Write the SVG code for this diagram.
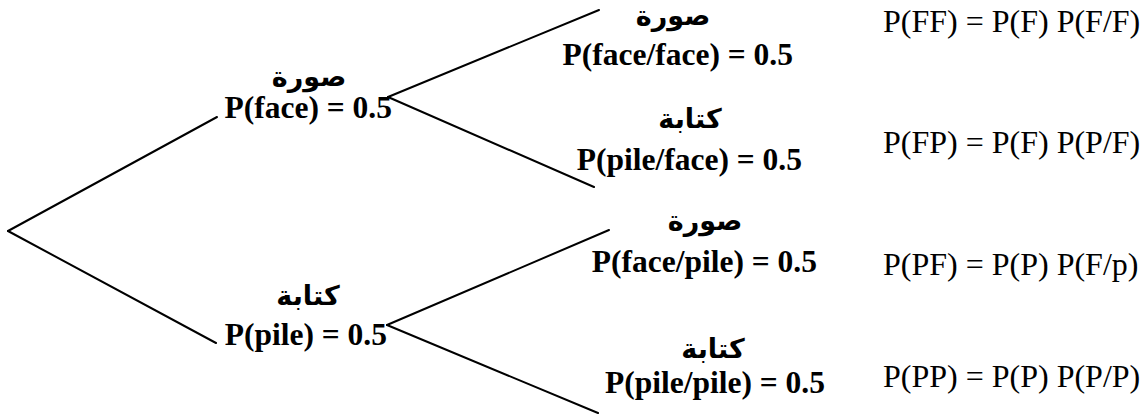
<svg xmlns="http://www.w3.org/2000/svg" width="1142" height="414" viewBox="0 0 1142 414">
<style>
.bg{fill:#fff}
.edge{stroke:#000;stroke-width:2;fill:none;stroke-linecap:round}
.lbl{font-family:"Times New Roman","Liberation Serif","DejaVu Serif",serif;font-weight:700;font-size:31.5px;fill:#000}
.ar{font-family:"DejaVu Sans",sans-serif;font-weight:bold;font-size:27px;fill:#000;text-anchor:middle}
.eq{font-family:"Liberation Serif","Times New Roman",serif;font-size:32px;fill:#000}
</style>
<rect class="bg" x="0" y="0" width="1142" height="414"/>
<g id="connectors">
<line class="edge" x1="8" y1="231" x2="217" y2="117"/>
<line class="edge" x1="8" y1="231" x2="216" y2="343"/>
<line class="edge" x1="388" y1="97" x2="599" y2="10"/>
<line class="edge" x1="388" y1="97" x2="594" y2="187"/>
<line class="edge" x1="387" y1="325" x2="609" y2="230"/>
<line class="edge" x1="387" y1="325" x2="598" y2="413"/>
</g>
<g id="node-face">
<text class="ar" x="309" y="86" direction="rtl">صورة</text>
<text class="lbl" x="392" y="118" text-anchor="end">P(face) = 0.5</text>
</g>
<g id="node-pile">
<text class="ar" x="308" y="305" direction="rtl">كتابة</text>
<text class="lbl" x="387" y="345" text-anchor="end">P(pile) = 0.5</text>
</g>
<g id="node-face-face">
<text class="ar" x="673" y="25" direction="rtl">صورة</text>
<text class="lbl" x="793" y="65" text-anchor="end">P(face/face) = 0.5</text>
</g>
<g id="node-pile-face">
<text class="ar" x="690" y="128" direction="rtl">كتابة</text>
<text class="lbl" x="802" y="170" text-anchor="end">P(pile/face) = 0.5</text>
</g>
<g id="node-face-pile">
<text class="ar" x="705" y="230" direction="rtl">صورة</text>
<text class="lbl" x="817" y="272" text-anchor="end">P(face/pile) = 0.5</text>
</g>
<g id="node-pile-pile">
<text class="ar" x="713" y="358" direction="rtl">كتابة</text>
<text class="lbl" x="825" y="393" text-anchor="end">P(pile/pile) = 0.5</text>
</g>
<g id="formulas">
<text class="eq" x="883" y="32">P(FF) = P(F) P(F/F)</text>
<text class="eq" x="883" y="153">P(FP) = P(F) P(P/F)</text>
<text class="eq" x="883" y="275">P(PF) = P(P) P(F/p)</text>
<text class="eq" x="883" y="387">P(PP) = P(P) P(P/P)</text>
</g>
</svg>
